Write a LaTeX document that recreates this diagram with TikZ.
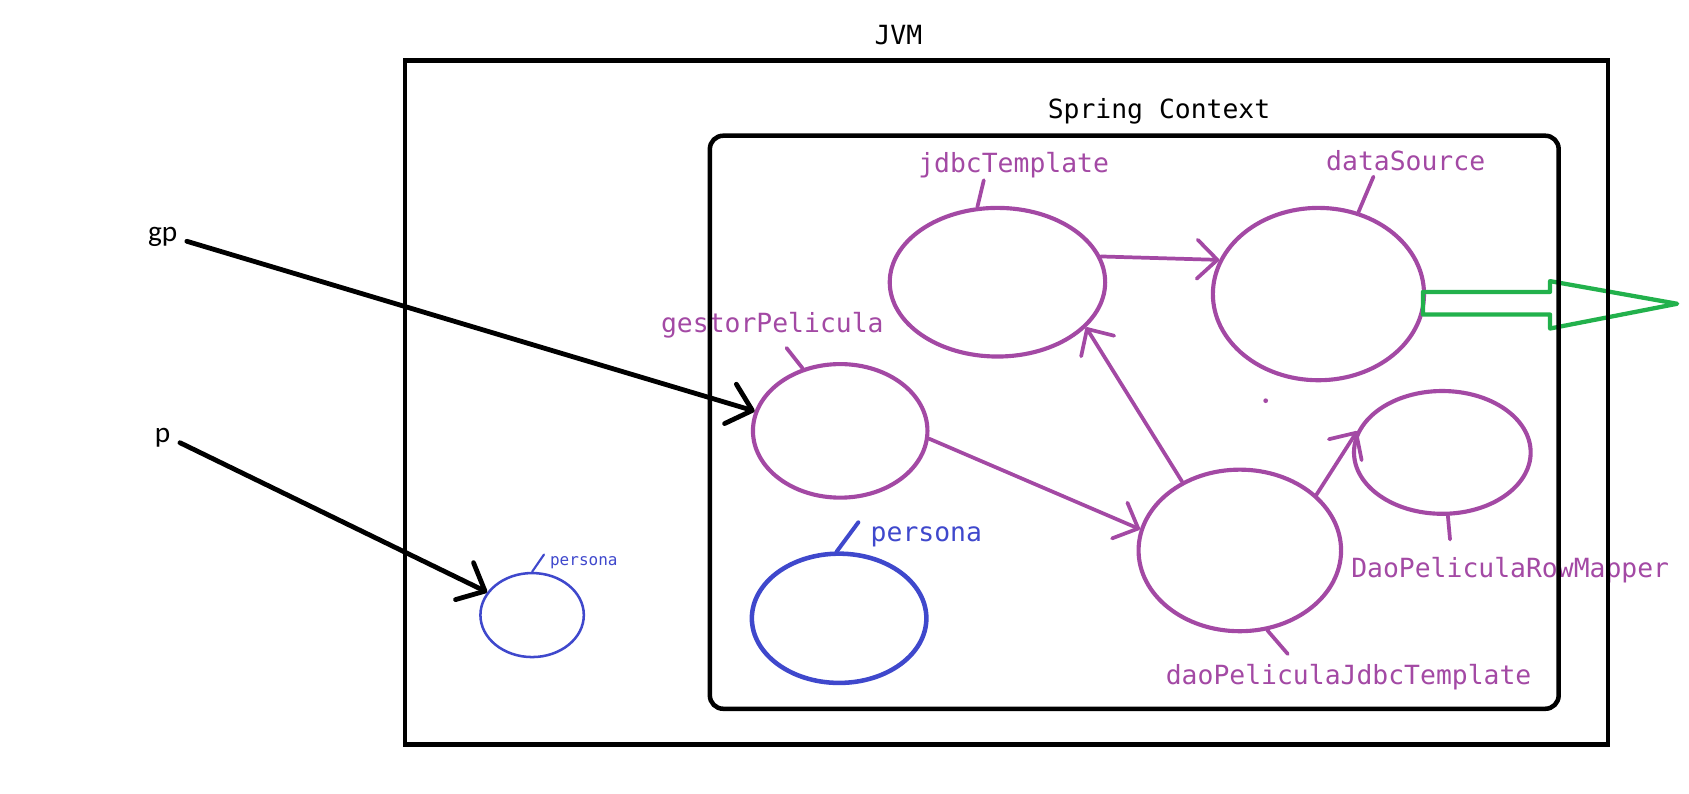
\documentclass[tikz,border=0pt]{standalone}
\usepackage{fontspec}
\setmonofont{DejaVu Sans Mono}
\newfontfamily\carlitofont{Carlito}
\usetikzlibrary{shapes.geometric,arrows.meta}
\definecolor{ppurple}{HTML}{A349A4}
\definecolor{pblue}{HTML}{3F48CC}
\definecolor{pgreen}{HTML}{22B14C}
\tikzset{
  ell/.style 2 args={draw=ppurple, line width=3.1pt, ellipse, inner sep=0pt,
    minimum width=#1*1.6158pt, minimum height=#2*1.6158pt},
  bell/.style 2 args={draw=pblue, ellipse, inner sep=0pt,
    minimum width=#1*1.6158pt, minimum height=#2*1.6158pt},
  monolbl/.style={font=\ttfamily\fontsize{19.8}{24}\selectfont, anchor=base, inner sep=0pt},
  plbl/.style={monolbl, text=ppurple},
  sanslbl/.style={font=\carlitofont\fontsize{22}{26}\selectfont, anchor=base, inner xsep=7pt, inner ysep=0pt},
  blkarr/.style={draw=black, line width=3.6pt, line cap=round, line join=round,
    -{Straight Barb[angle=84:23pt, round]}},
  parr/.style={draw=ppurple, line width=2.8pt, line cap=round, line join=round,
    -{Straight Barb[angle=88:21pt, round]}},
  ptick/.style={draw=ppurple, line width=2.8pt, line cap=round},
  box/.style={draw=black, line width=3.4pt}
}
\begin{document}
\begin{tikzpicture}[x=0.8079pt,y=-0.8079pt]
\useasboundingbox (0,0) rectangle (1568,737);

% bean ellipses
\node[ell={100}{69}] (jdbc) at (926,262) {};
\node[ell={98}{80}] (ds) at (1224,273) {};
\node[ell={81}{62}] (gestor) at (780,400) {};
\node[ell={94}{75}] (dao) at (1151,511) {};
\node[ell={82}{57}] (rm) at (1339,420) {};
\node[bell={81}{60}, line width=3.4pt] (pers) at (779,574) {};
\node[bell={48}{39}, line width=1.9pt] (perss) at (494,571) {};

% labels
\node[monolbl] (jvmlbl) at (834,41) {JVM};
\node[monolbl] (spclbl) at (1076,110) {Spring Context};
\node[plbl] (jdbclbl) at (941,160) {jdbcTemplate};
\node[plbl] (dslbl) at (1305,158) {dataSource};
\node[plbl] (gestorlbl) at (717,309) {gestorPelicula};
\node[monolbl, text=pblue] (perslbl) at (860,503) {persona};
\node[monolbl, text=pblue, font=\ttfamily\fontsize{12}{14}\selectfont] (persslbl) at (542,525) {persona};
\node[plbl] (daolbl) at (1252,635) {daoPeliculaJdbcTemplate};
\node[plbl] (rmlbl) at (1402,536) {DaoPeliculaRowMapper};
\node[sanslbl] (gp) at (151,224) {gp};
\node[sanslbl] (p) at (151,411) {p};

% label ticks
\draw[ptick] (jdbc.105) -- ++(6,-25);
\draw[ptick] (ds.64) -- ++(14,-33);
\draw[ptick] (gestor.121) -- ++(-15,-19);
\draw[ptick] (dao.289) -- ++(19,22);
\draw[ptick] (rm.275) -- ++(2,22);
\draw[draw=pblue, line width=3pt, line cap=round] (pers.92) -- ++(20,-27);
\draw[draw=pblue, line width=1.6pt, line cap=round] (perss.90) -- ++(11,-16);

% connectors
\draw[blkarr] (gp.base east) -- (gestor.167);
\draw[blkarr] (p.base east) -- (perss.153);
\draw[parr] (jdbc.14) -- (ds.161);
\draw[parr] (gestor.355) -- (dao.168);
\draw[parr] (dao.130) -- (jdbc.333);
\draw[parr] (dao.36) -- (rm.166);

% stray dot
\fill[ppurple] (1175,372) circle (2.2);

% green block arrow
\draw[pgreen, line width=3.2pt, line join=round]
  (1321,271) -- (1439,271) -- (1439,261) -- (1557,282) -- (1439,305) -- (1439,292) -- (1321,292) -- cycle;

% containers
\draw[box] (376,56) rectangle (1493,691);
\draw[box, rounded corners=10pt] (659,126) rectangle (1447,658);
\end{tikzpicture}
\end{document}
